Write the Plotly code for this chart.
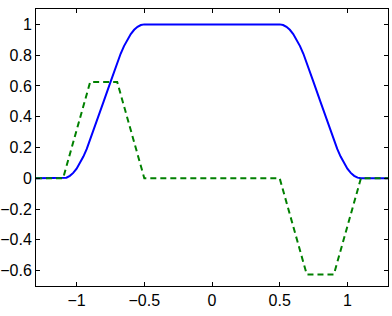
import plotly.graph_objects as go

# Blue solid curve
blue_x = [-1.3, -1.1, -1.075, -1.05, -1.025, -1.0, -0.975, -0.95, -0.925, -0.9,
          -0.85, -0.8, -0.75, -0.7, -0.675, -0.65, -0.625, -0.6, -0.575, -0.55, -0.525, -0.5,
          0.5, 0.525, 0.55, 0.575, 0.6, 0.625, 0.65, 0.675, 0.7,
          0.75, 0.8, 0.85, 0.9, 0.925, 0.95, 0.975, 1.0, 1.025, 1.05, 1.075, 1.1, 1.3]
blue_y = [0.0, 0.0, 0.004, 0.016, 0.035, 0.0625, 0.098, 0.141, 0.191, 0.25,
          0.375, 0.5, 0.625, 0.75, 0.809, 0.859, 0.902, 0.9375, 0.965, 0.984, 0.996, 1.0,
          1.0, 0.996, 0.984, 0.965, 0.9375, 0.902, 0.859, 0.809, 0.75,
          0.625, 0.5, 0.375, 0.25, 0.191, 0.141, 0.098, 0.0625, 0.035, 0.016, 0.004, 0.0, 0.0]

# Green dashed curve
green_x = [-1.3, -1.1, -0.9, -0.7, -0.5, 0.5, 0.7, 0.9, 1.1, 1.3]
green_y = [0.0, 0.0, 0.625, 0.625, 0.0, 0.0, -0.625, -0.625, 0.0, 0.0]

x_ticks = [-1, -0.5, 0, 0.5, 1]
x_labels = ["\u22121", "\u22120.5", "0", "0.5", "1"]
y_ticks = [-0.6, -0.4, -0.2, 0, 0.2, 0.4, 0.6, 0.8, 1]
y_labels = ["\u22120.6", "\u22120.4", "\u22120.2", "0", "0.2", "0.4", "0.6", "0.8", "1"]

fig = go.Figure()
fig.add_trace(go.Scatter(x=blue_x, y=blue_y, mode="lines",
                         line=dict(color="#0000ff", width=2)))
fig.add_trace(go.Scatter(x=green_x, y=green_y, mode="lines",
                         line=dict(color="#008000", width=2, dash="6px,4px")))

axis_common = dict(showgrid=False, zeroline=False, showline=True, linecolor="black",
                   linewidth=1, mirror="ticks", ticks="inside", ticklen=4,
                   tickcolor="black", tickwidth=1, automargin=False,
                   tickfont=dict(family="Liberation Sans, Arial, sans-serif", size=16, color="black"))

fig.update_layout(
    width=392, height=316,
    margin=dict(l=36, r=4, t=9, b=30),
    paper_bgcolor="white", plot_bgcolor="white",
    showlegend=False,
    xaxis=dict(range=[-1.3, 1.3], tickvals=x_ticks, ticktext=x_labels, **axis_common),
    yaxis=dict(range=[-0.7, 1.1], tickvals=y_ticks, ticktext=y_labels, **axis_common),
)

fig.write_html("out.html")
